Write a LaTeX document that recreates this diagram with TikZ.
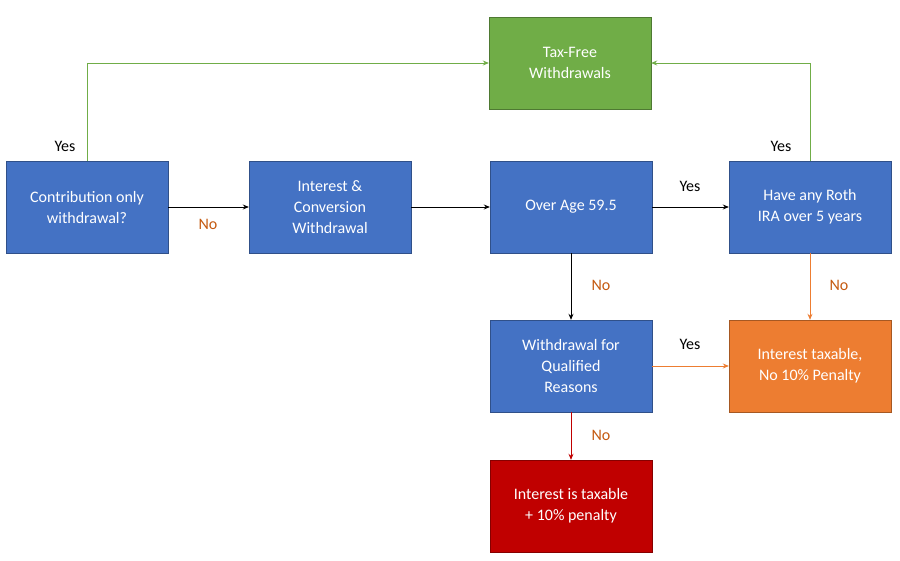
\documentclass[tikz,border=0pt]{standalone}
\usepackage{fontspec}
\setmainfont{Carlito}
\usetikzlibrary{arrows.meta}
\definecolor{boxblue}{HTML}{4472C4}
\definecolor{boxgreen}{HTML}{70AD47}
\definecolor{boxorange}{HTML}{ED7D31}
\definecolor{boxred}{HTML}{C00000}
\definecolor{labno}{HTML}{C55A11}
\tikzset{
  stepbox/.style={draw=#1!70!black,fill=#1,text=white,minimum width=162pt,minimum height=92pt,
    align=center,font=\fontsize{16}{21}\selectfont,inner sep=2pt},
  link/.style={-{Stealth[length=6pt,width=5pt]},line width=0.8pt},
  yeslab/.style={font=\fontsize{16}{19}\selectfont,text=black},
  nolab/.style={font=\fontsize{16}{19}\selectfont,text=labno}
}
\begin{document}
\begin{tikzpicture}[x=1pt,y=-1pt]
	\useasboundingbox[fill=white](0,0) rectangle (900,560);

	\node[stepbox=boxgreen] (free) at (570,63) {Tax-Free\\Withdrawals};
	\node[stepbox=boxblue] (contrib) at (87,207) {Contribution only\\withdrawal?};
	\node[stepbox=boxblue] (interest) at (330,207) {Interest \&\\Conversion\\Withdrawal};
	\node[stepbox=boxblue] (age) at (571,207) {Over Age 59.5};
	\node[stepbox=boxblue] (roth) at (810,207) {Have any Roth\\IRA over 5 years};
	\node[stepbox=boxblue] (qual) at (571,366) {Withdrawal for\\Qualified\\Reasons};
	\node[stepbox=boxorange] (notax) at (810,366) {Interest taxable,\\No 10\% Penalty};
	\node[stepbox=boxred] (tax) at (571,506) {Interest is taxable\\+ 10\% penalty};

	% connectors
	\draw[link,boxgreen] (contrib.north) |- (free.west);
	\draw[link,boxgreen] (roth.north) |- (free.east);
	\draw[link] (contrib) -- (interest);
	\draw[link] (interest) -- (age);
	\draw[link] (age) -- (roth);
	\draw[link] (age) -- (qual);
	\draw[link,boxorange] (roth) -- (notax);
	\draw[link,boxorange] (qual) -- (notax);
	\draw[link,boxred] (qual) -- (tax);

	% labels
	\node[yeslab] (y1) at (65,146) {Yes};
	\node[nolab] (n1) at (208,224) {No};
	\node[yeslab] (y2) at (690,186) {Yes};
	\node[yeslab] (y3) at (781,146) {Yes};
	\node[nolab] (n2) at (839,285) {No};
	\node[nolab] (n3) at (601,285) {No};
	\node[yeslab] (y4) at (690,344) {Yes};
	\node[nolab] (n4) at (601,435) {No};
\end{tikzpicture}
\end{document}
